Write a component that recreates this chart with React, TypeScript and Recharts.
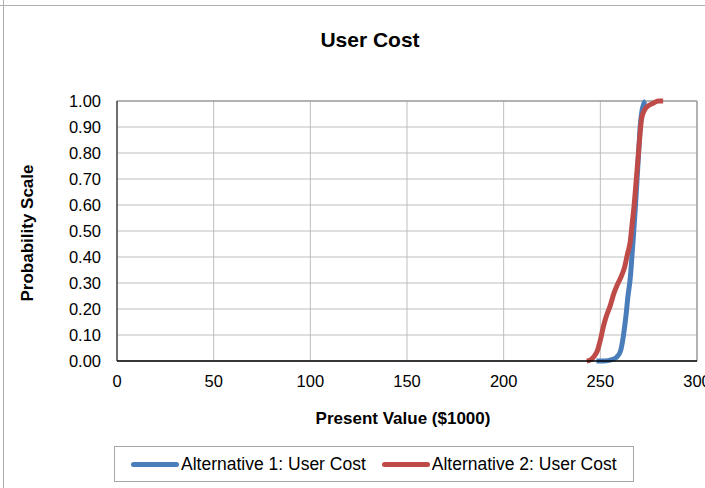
import React from "react";
import { CartesianGrid, Legend, Line, LineChart, ReferenceLine, XAxis, YAxis } from "recharts";

// cumulative probability curves
const alt1X = [248, 252, 256, 258.5, 260.5, 262, 263.2, 264.3, 265.5, 266.5, 267.3, 268.2, 269, 269.8, 270.6, 271.5, 272.5, 273.5];
const alt1P = [0, 0, 0.005, 0.015, 0.04, 0.1, 0.17, 0.25, 0.32, 0.42, 0.5, 0.6, 0.7, 0.8, 0.9, 0.96, 0.99, 1.0];

const alt2X = [243, 245, 247, 248.5, 250, 251.5, 253, 255, 257, 258.6, 260.5, 262.5, 264, 265.5, 266.5, 267.5, 268.5, 269.5, 270.5, 271.3, 272.5, 274.5, 277, 280, 282.5];
const alt2P = [0, 0.005, 0.02, 0.04, 0.08, 0.13, 0.17, 0.21, 0.26, 0.29, 0.32, 0.36, 0.41, 0.46, 0.53, 0.6, 0.69, 0.78, 0.87, 0.93, 0.96, 0.98, 0.99, 1.0, 1.0];

const xTicks = [0, 50, 100, 150, 200, 250, 300];
const yTicks = [0, 0.1, 0.2, 0.3, 0.4, 0.5, 0.6, 0.7, 0.8, 0.9, 1.0];

const seriesNames = ["Alternative 1: User Cost", "Alternative 2: User Cost"];
const seriesColors = ["#4a7ebb", "#be4b48"];

const alt1 = alt1X.map((x, i) => ({ x, p: alt1P[i] }));
const alt2 = alt2X.map((x, i) => ({ x, p: alt2P[i] }));

const FONT = "'Liberation Sans', Arial, sans-serif";

function LegendBox() {
  return (
    <div
      style={{
        boxSizing: "border-box",
        width: 520,
        height: 36,
        border: "1px solid #a6a6a6",
        display: "flex",
        alignItems: "center",
        paddingLeft: 16,
        fontFamily: FONT,
        fontSize: 17.5,
        color: "#000",
      }}
    >
      {seriesNames.map((name, i) => (
        <div key={name} style={{ display: "flex", alignItems: "center", marginRight: i === 0 ? 16 : 0 }}>
          <span style={{ display: "inline-block", width: 48, height: 5, borderRadius: 3, background: seriesColors[i], marginRight: 2 }} />
          <span>{name}</span>
        </div>
      ))}
    </div>
  );
}

export default function App() {
  return (
    <div style={{ position: "absolute", left: 0, top: 0, width: 705, height: 488, background: "#fff", overflow: "hidden" }}>
      <div style={{ position: "absolute", left: 0, top: 5, width: 705, height: 1, background: "#b0b0b0" }} />
      <div style={{ position: "absolute", left: 3, top: 0, width: 1, height: 488, background: "#b0b0b0" }} />
      <LineChart width={705} height={488} margin={{ top: 101, right: 8, left: 0, bottom: 0 }}>
        <CartesianGrid stroke="#bdbdbd" strokeWidth={1} />
        <XAxis
          type="number"
          dataKey="x"
          domain={[0, 300]}
          ticks={xTicks}
          interval={0}
          height={127}
          tickLine={false}
          tickMargin={8}
          axisLine={{ stroke: "#000", strokeWidth: 1.5 }}
          tick={{ fontSize: 16.5, fill: "#000", fontFamily: FONT }}
        />
        <YAxis
          type="number"
          domain={[0, 1]}
          ticks={yTicks}
          interval={0}
          width={117}
          tickLine={false}
          tickMargin={10}
          axisLine={{ stroke: "#000", strokeWidth: 1 }}
          tickFormatter={(v) => Number(v).toFixed(2)}
          tick={{ fontSize: 16.5, fill: "#000", fontFamily: FONT }}
        />
        <ReferenceLine y={1} stroke="#868686" />
        <ReferenceLine x={300} stroke="#868686" />
        <Line
          data={alt1}
          dataKey="p"
          name={seriesNames[0]}
          type="monotone"
          stroke={seriesColors[0]}
          strokeWidth={5}
          dot={false}
          isAnimationActive={false}
        />
        <Line
          data={alt2}
          dataKey="p"
          name={seriesNames[1]}
          type="monotone"
          stroke={seriesColors[1]}
          strokeWidth={5}
          dot={false}
          isAnimationActive={false}
        />
        <text x={370} y={47} textAnchor="middle" fontFamily={FONT} fontWeight="bold" fontSize={21} fill="#000">
          User Cost
        </text>
        <text x={403} y={424} textAnchor="middle" fontFamily={FONT} fontWeight="bold" fontSize={17} fill="#000">
          Present Value ($1000)
        </text>
        <text
          x={33}
          y={233}
          transform="rotate(-90 33 233)"
          textAnchor="middle"
          fontFamily={FONT}
          fontWeight="bold"
          fontSize={17}
          fill="#000"
        >
          Probability Scale
        </text>
        <Legend
          layout="horizontal"
          verticalAlign="middle"
          align="center"
          content={() => <LegendBox />}
          wrapperStyle={{ top: 446, left: 114, width: 520, height: 36 }}
        />
      </LineChart>
    </div>
  );
}
